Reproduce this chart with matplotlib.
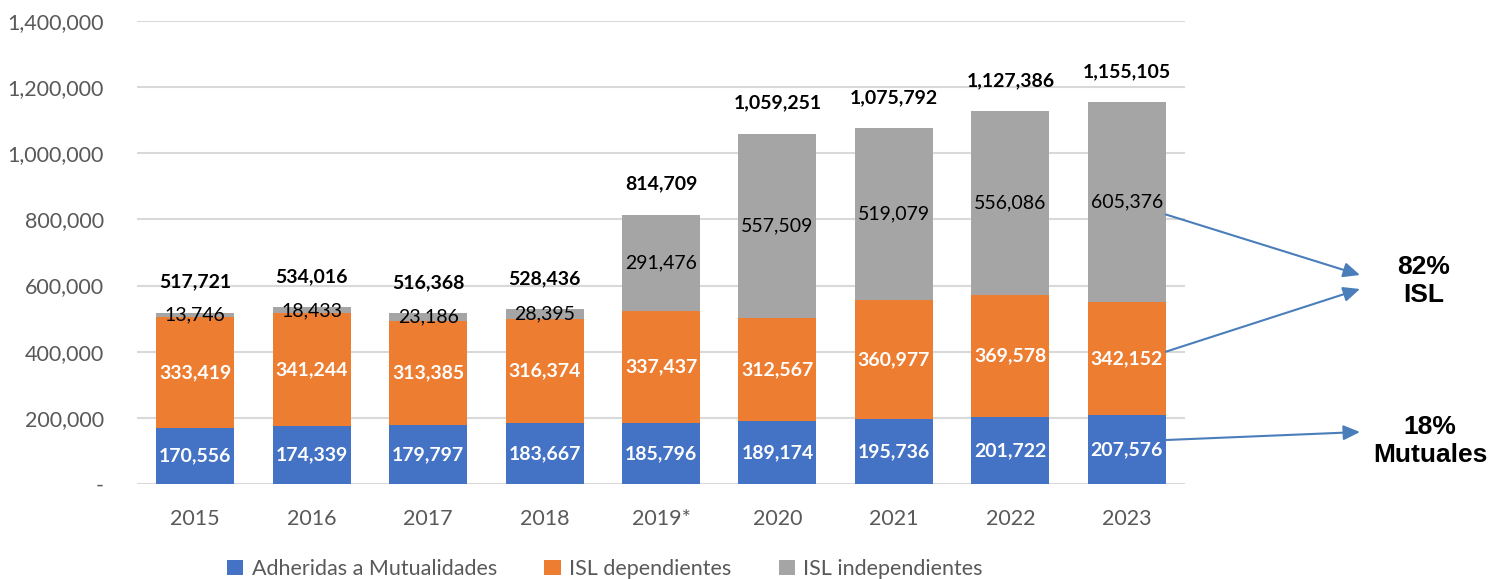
import matplotlib
matplotlib.use("Agg")
import matplotlib.pyplot as plt
import numpy as np
from matplotlib.ticker import FuncFormatter

years = ["2015", "2016", "2017", "2018", "2019*", "2020", "2021", "2022", "2023"]
mutualidades = [170556, 174339, 179797, 183667, 185796, 189174, 195736, 201722, 207576]
isl_dep = [333419, 341244, 313385, 316374, 337437, 312567, 360977, 369578, 342152]
isl_indep = [13746, 18433, 23186, 28395, 291476, 557509, 519079, 556086, 605376]
totals = [517721, 534016, 516368, 528436, 814709, 1059251, 1075792, 1127386, 1155105]
series_names = ["Adheridas a Mutualidades", "ISL dependientes", "ISL independientes"]
colors = ["#4472C4", "#ED7D31", "#A5A5A5"]
ann_texts = ["82%\nISL", "18%\nMutuales"]

FONT = "Lato"
plt.rcParams["font.family"] = [FONT, "DejaVu Sans"]

fig = plt.figure(figsize=(14.9, 5.79), dpi=100)
ax = fig.add_axes([137/1490, 1-484/579, (1185-137)/1490, (484-21)/579])

x = np.arange(len(years))
w = 0.67
mut = np.array(mutualidades)
dep = np.array(isl_dep)
ind = np.array(isl_indep)
b1 = ax.bar(x, mut, w, color=colors[0], label=series_names[0], zorder=3)
b2 = ax.bar(x, dep, w, bottom=mut, color=colors[1], label=series_names[1], zorder=3)
b3 = ax.bar(x, ind, w, bottom=mut+dep, color=colors[2], label=series_names[2], zorder=3)

fmt = lambda v: f"{v:,}"
for i in range(len(years)):
    ax.text(x[i], mut[i]/2, fmt(mutualidades[i]), ha="center", va="center",
            color="white", fontsize=14, fontweight="bold", zorder=4)
    ax.text(x[i], mut[i] + dep[i]/2, fmt(isl_dep[i]), ha="center", va="center",
            color="white", fontsize=14, fontweight="bold", zorder=4)
    ax.text(x[i], mut[i] + dep[i] + ind[i]/2, fmt(isl_indep[i]), ha="center", va="center",
            color="black", fontsize=14, zorder=4)
    ax.annotate(fmt(totals[i]), (x[i], totals[i]), xytext=(0, 22), textcoords="offset points",
                ha="center", va="center", color="black", fontsize=14, fontweight="bold", zorder=4)

ax.set_xlim(-0.5, len(years) - 0.5)
ax.set_ylim(0, 1400000)
ax.set_yticks(np.arange(0, 1400001, 200000))
ax.yaxis.set_major_formatter(FuncFormatter(lambda v, p: "-" if v == 0 else f"{int(v):,}"))
ax.set_xticks(x)
ax.set_xticklabels(years)
ax.tick_params(axis="both", length=0, labelsize=15.5, labelcolor="#595959")
ax.tick_params(axis="x", pad=18)
ax.tick_params(axis="y", pad=24)
for s in ax.spines.values():
    s.set_visible(False)
ax.grid(axis="y", color="#D9D9D9", linewidth=1.5, zorder=0)
ax.set_axisbelow(True)

fig.legend(handles=[b1, b2, b3], labels=series_names, loc="center",
           bbox_to_anchor=(605/1490, 1-569/579), ncol=3, frameon=False,
           fontsize=15.5, labelcolor="#595959", handlelength=0.75, handleheight=0.75,
           handletextpad=0.4, columnspacing=2.2)

arrow_color = "#4A7EBB"
last = len(years) - 1
right_edge = x[last] + w/2
arrow_kw = dict(arrowstyle="-|>,head_length=1.0,head_width=0.45", color=arrow_color, lw=1.5,
                shrinkA=0, shrinkB=0)
ax.annotate("", xy=(1360/1490, 1-275/579), xycoords="figure fraction",
            xytext=(right_edge, 815000), textcoords="data", arrowprops=arrow_kw,
            annotation_clip=False)
ax.annotate("", xy=(1360/1490, 1-289/579), xycoords="figure fraction",
            xytext=(right_edge, 400000), textcoords="data", arrowprops=arrow_kw,
            annotation_clip=False)
ax.annotate("", xy=(1360/1490, 1-432/579), xycoords="figure fraction",
            xytext=(right_edge, 133000), textcoords="data", arrowprops=arrow_kw,
            annotation_clip=False)

fig.text(1424/1490, 1-281/579, ann_texts[0], ha="center", va="center", fontsize=19,
         fontweight="bold", family="Liberation Sans", linespacing=1.25)
fig.text(1430/1490, 1-441/579, ann_texts[1], ha="center", va="center", fontsize=19,
         fontweight="bold", family="Liberation Sans", linespacing=1.25)

fig.savefig("out.png", dpi=100)
